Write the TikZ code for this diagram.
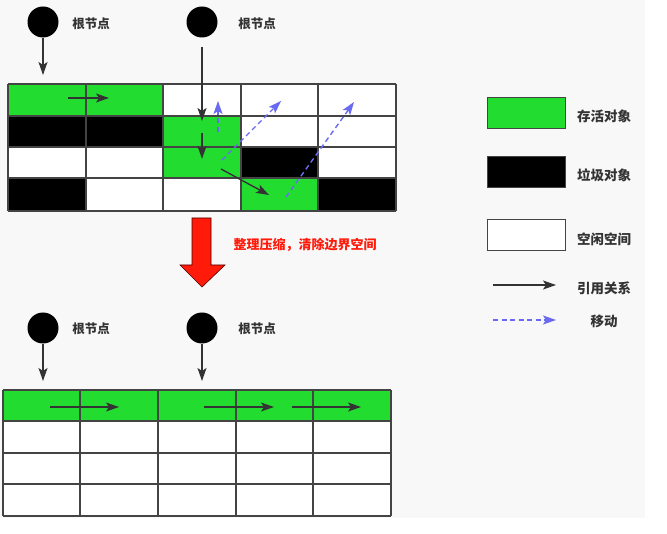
\documentclass[tikz,border=0pt]{standalone}
\usepackage{fontspec}
\newfontfamily\cjk{Noto Sans CJK SC}
\usetikzlibrary{arrows.meta}
\definecolor{livegreen}{HTML}{22DD30}
\definecolor{bgray}{HTML}{F7F8F7}
\definecolor{gline}{HTML}{444444}
\definecolor{arrowc}{HTML}{333333}
\definecolor{movec}{HTML}{6A6AF0}
\definecolor{redc}{HTML}{FF1A0A}
\tikzset{
  gridln/.style={draw=gline, line width=1.6pt},
  refarrow/.style={draw=arrowc, line width=1.4pt, -{Stealth[length=13pt,width=9pt,inset=3pt]}},
  movearrow/.style={draw=movec, line width=1.4pt, dash pattern=on 5pt off 3.5pt, -{Stealth[length=13pt,width=9pt,inset=3pt]}},
  rootnode/.style={circle, fill=black, inner sep=0pt, minimum size=31pt},
  lbl/.style={font=\cjk\bfseries\fontsize{12.5}{14}\selectfont, text=arrowc, inner sep=0pt},
  legtxt/.style={font=\cjk\bfseries\fontsize{13.5}{15}\selectfont, text=arrowc, inner sep=0pt},
  legbox/.style={draw=gline, line width=1.6pt, minimum width=78pt, minimum height=31pt, inner sep=0pt},
}
\begin{document}
\begin{tikzpicture}[x=1pt,y=-1pt]
\useasboundingbox (0,0) rectangle (667,534);
\fill[white] (0,0) rectangle (667,534);
\fill[bgray] (0,0) rectangle (645,518);

% ---------- top grid ----------
\fill[white] (8,84) rectangle (396,211);
\fill[livegreen] (8,84) rectangle (163,116);
\fill[black] (8,116) rectangle (163,147);
\fill[livegreen] (163,116) rectangle (241,178);
\fill[black] (241,147) rectangle (318,178);
\fill[black] (8,178) rectangle (86,211);
\fill[livegreen] (241,178) rectangle (318,211);
\fill[black] (318,178) rectangle (396,211);
\foreach \xx in {8,86,163,241,318,396} \draw[gridln] (\xx,84) -- (\xx,211);
\foreach \yy in {84,116,147,178,211} \draw[gridln] (8,\yy) -- (396,\yy);

% roots top
\node[rootnode] (r1) at (43,22) {};
\node[rootnode] (r2) at (202,22) {};
\node[lbl] (l1) at (91,24) {根节点};
\node[lbl] (l2) at (257,24) {根节点};
\coordinate (r1t) at (43,75);
\coordinate (r2s) at (202,47);
\coordinate (r2t) at (202,121);
\draw[refarrow] (r1) -- (r1t);
\draw[refarrow] (r2s) -- (r2t);

% reference arrows top
\coordinate (a1s) at (68,98);  \coordinate (a1e) at (109,98);
\coordinate (a2s) at (202,133); \coordinate (a2e) at (202,159);
\coordinate (a3s) at (221,169); \coordinate (a3e) at (269,195);
\draw[refarrow] (a1s) -- (a1e);
\draw[refarrow] (a2s) -- (a2e);
\draw[refarrow] (a3s) -- (a3e);

% move arrows
\coordinate (m1s) at (218,132); \coordinate (m1e) at (218,101);
\coordinate (m2s) at (222,160); \coordinate (m2e) at (281,101);
\coordinate (m3s) at (286,197); \coordinate (m3e) at (354,102);
\draw[movearrow] (m1s) -- (m1e);
\draw[movearrow] (m2s) -- (m2e);
\draw[movearrow] (m3s) -- (m3e);

% ---------- red arrow ----------
\draw[fill=redc, draw=black!70!red, line width=0.6pt]
  (192,218) -- (211,218) -- (211,265) -- (225,265) -- (202,287) -- (180,265) -- (192,265) -- cycle;
\node[font=\cjk\bfseries\fontsize{13}{15}\selectfont, text=redc, inner sep=0pt] (cap) at (305,245) {整理压缩，清除边界空间};

% ---------- bottom grid ----------
\fill[white] (3,390) rectangle (391,516);
\fill[livegreen] (3,390) rectangle (391,421);
\foreach \xx in {3,80,158,236,313,391} \draw[gridln] (\xx,390) -- (\xx,516);
\foreach \yy in {390,421,453,484,516} \draw[gridln] (3,\yy) -- (391,\yy);

\node[rootnode] (r3) at (43,328) {};
\node[rootnode] (r4) at (202,328) {};
\node[lbl] (l3) at (91,329) {根节点};
\node[lbl] (l4) at (257,329) {根节点};
\coordinate (r3t) at (43,381);
\coordinate (r4t) at (202,381);
\draw[refarrow] (r3) -- (r3t);
\draw[refarrow] (r4) -- (r4t);

\coordinate (b1s) at (50,407);  \coordinate (b1e) at (119,407);
\coordinate (b2s) at (204,407); \coordinate (b2e) at (274,407);
\coordinate (b3s) at (292,407); \coordinate (b3e) at (361,407);
\draw[refarrow] (b1s) -- (b1e);
\draw[refarrow] (b2s) -- (b2e);
\draw[refarrow] (b3s) -- (b3e);

% ---------- legend ----------
\node[legbox, fill=livegreen] (kg) at (526.5,113) {};
\node[legbox, fill=black] (kb) at (526.5,172) {};
\node[legbox, fill=white] (kw) at (526.5,235) {};
\node[legtxt] (tg) at (604,116) {存活对象};
\node[legtxt] (tb) at (604,175) {垃圾对象};
\node[legtxt] (tw) at (604,239) {空闲空间};
\coordinate (kr1) at (493,285); \coordinate (kr2) at (556,285);
\coordinate (km1) at (493,320); \coordinate (km2) at (556,320);
\draw[refarrow] (kr1) -- (kr2);
\draw[movearrow] (km1) -- (km2);
\node[legtxt] (tr) at (604,288) {引用关系};
\node[legtxt] (tm) at (604,321) {移动};
\end{tikzpicture}
\end{document}
